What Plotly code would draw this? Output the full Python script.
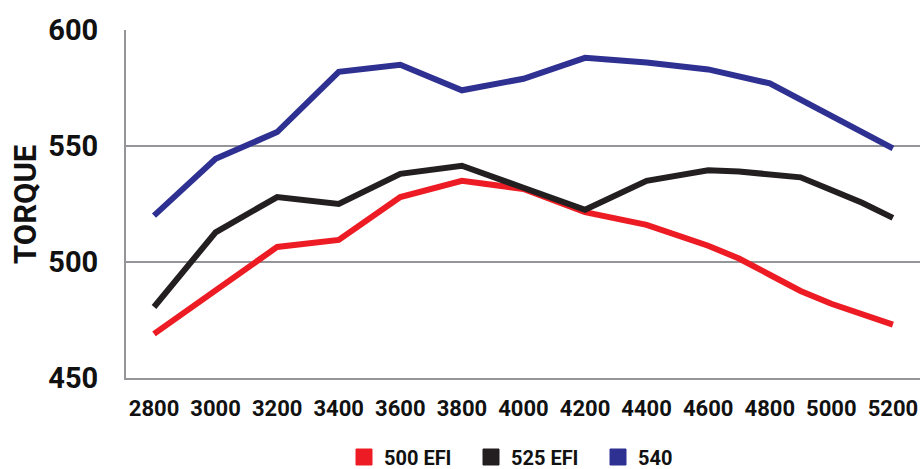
import plotly.graph_objects as go

# ---- data ----
rpm = [2800, 3000, 3200, 3400, 3600, 3800, 4000, 4200, 4400, 4600, 4800, 5000, 5200]
rpm_tail = [2800, 3000, 3200, 3400, 3600, 3800, 4000, 4200, 4400, 4600, 4700, 4800, 4900, 5000, 5100, 5200]

torque_500efi = [469, 488, 506.5, 509.5, 528, 535, 531.5, 521.5, 516, 507, 501.5, 494.5, 487.5, 482, 477.5, 473]
torque_525efi = [480.6, 512.8, 528, 525, 538, 541.5, 532, 522.5, 535, 539.5, 539, 538, 536.5, 531, 525.5, 519]
torque_540 = [520, 544.5, 556, 582, 585, 574, 579, 588, 586, 583, 577, 563, 549]

series_names = ["500 EFI", "525 EFI", "540"]
series_colors = ["#ED1C24", "#231F20", "#2E3192"]

y_ticks = [450, 500, 550, 600]
grid_values = [500, 550]
x_ticks = rpm
y_title = "TORQUE"

FONT = "Roboto, DejaVu Sans Condensed, sans-serif"
GRID = "#939598"
TXT = "#111111"

fig = go.Figure()

series = [
    (rpm_tail, torque_500efi),
    (rpm_tail, torque_525efi),
    (rpm, torque_540),
]
for (xs, ys), name, color in zip(series, series_names, series_colors):
    fig.add_trace(go.Scatter(
        x=xs, y=ys, mode="lines", name=name,
        line=dict(color=color, width=6),
        showlegend=False, hoverinfo="skip",
    ))

# legend entries (square swatches)
for name, color in zip(series_names, series_colors):
    fig.add_trace(go.Scatter(
        x=[None], y=[None], mode="markers", name=name,
        marker=dict(symbol="square", size=16, color=color, line=dict(width=1, color=color)),
        showlegend=True,
    ))

for g in grid_values:
    fig.add_shape(type="line", xref="paper", x0=0, x1=1, yref="y", y0=g, y1=g,
                  line=dict(color=GRID, width=2), layer="below")

W, H = 920, 469
L, T, R, B = 126, 30, 0, 91
plot_w = W - L - R

fig.add_annotation(
    text=y_title, xref="paper", yref="paper", x=(25 - L) / plot_w, y=0.5,
    xanchor="center", yanchor="middle", textangle=-90, showarrow=False,
    font=dict(family=FONT, size=31, color=TXT, weight="bold"),
)

fig.update_layout(
    width=W, height=H,
    margin=dict(l=L, r=R, t=T, b=B, autoexpand=False),
    paper_bgcolor="white", plot_bgcolor="white",
    showlegend=True,
    legend=dict(
        orientation="h", x=(344 - L) / plot_w, xanchor="left",
        yref="container", y=12 / H, yanchor="middle",
        entrywidth=82,
        font=dict(family=FONT, size=20, color=TXT, weight="bold"),
        bgcolor="rgba(0,0,0,0)",
    ),
    xaxis=dict(
        range=[2709, 5288], tickvals=x_ticks, ticktext=[str(v) for v in x_ticks],
        tickangle=0,
        showgrid=False, zeroline=False, ticks="",
        showline=True, linecolor=GRID, linewidth=2,
        tickfont=dict(family=FONT, size=22, color=TXT, weight="bold"),
        ticklabelstandoff=10,
    ),
    yaxis=dict(
        range=[450, 600], tickvals=y_ticks, ticktext=[str(v) for v in y_ticks],
        showgrid=False, zeroline=False, ticks="",
        showline=True, linecolor=GRID, linewidth=2,
        tickfont=dict(family=FONT, size=29, color=TXT, weight="bold"),
        ticklabelstandoff=20,
    ),
)

fig.write_html(
    "out.html",
    config={"displayModeBar": False},
    post_script="document.documentElement.style.overflow='hidden';"
                "document.body.style.margin='0';document.body.style.overflow='hidden';",
)
